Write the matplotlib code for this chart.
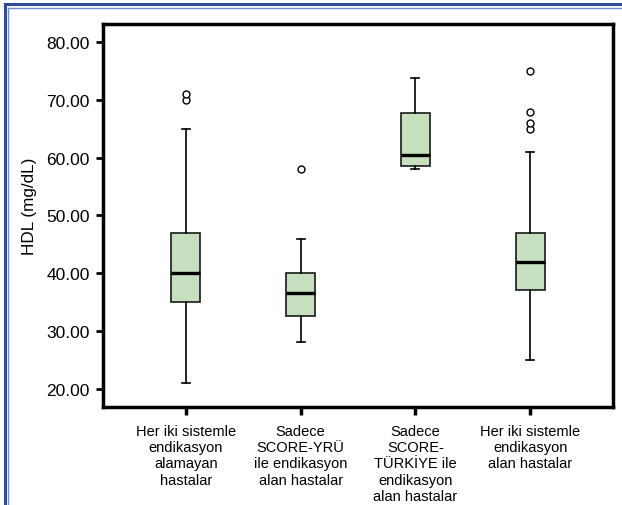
import matplotlib

matplotlib.use("Agg")
import matplotlib.pyplot as plt
from matplotlib.lines import Line2D

# group labels and box statistics (HDL, mg/dL)
groups = [
    "Her iki sistemle\nendikasyon\nalamayan\nhastalar",
    "Sadece\nSCORE-YRÜ\nile endikasyon\nalan hastalar",
    "Sadece\nSCORE-\nTÜRKİYE ile\nendikasyon\nalan hastalar",
    "Her iki sistemle\nendikasyon\nalan hastalar",
]
whislo = [21.0, 28.0, 58.0, 25.0]
q1 = [35.0, 32.5, 58.6, 37.0]
medians = [40.0, 36.5, 60.5, 42.0]
q3 = [47.0, 40.0, 67.8, 47.0]
whishi = [65.0, 46.0, 73.8, 61.0]
outliers = [[70.0, 71.0], [58.0], [], [65.0, 66.1, 68.0, 75.0]]
yticks = [20, 30, 40, 50, 60, 70, 80]

plt.rcParams["font.family"] = ["Liberation Sans", "DejaVu Sans"]

fig = plt.figure(figsize=(6.22, 5.06), dpi=100)
ax = fig.add_axes([0.1656, 0.1937, 0.82, 0.757])

stats = []
for i in range(len(groups)):
    stats.append({
        "whislo": whislo[i], "q1": q1[i], "med": medians[i],
        "q3": q3[i], "whishi": whishi[i], "fliers": outliers[i],
    })

ax.bxp(
    stats,
    positions=range(1, len(groups) + 1),
    widths=0.25,
    patch_artist=True,
    showfliers=True,
    boxprops=dict(facecolor="#c6dfbf", edgecolor="#1a1a1a", linewidth=1.2),
    medianprops=dict(color="black", linewidth=2.4),
    whiskerprops=dict(color="black", linewidth=1.2),
    capprops=dict(color="black", linewidth=1.2),
    capwidths=0.07,
    flierprops=dict(marker="o", markersize=5, markerfacecolor="white",
                    markeredgecolor="black", markeredgewidth=1.0),
)

ax.set_xlim(0.28, 4.72)
ax.set_ylim(16.8, 83.2)
ax.set_yticks(yticks)
ax.set_yticklabels([f"{v:.2f}" for v in yticks], fontsize=12.5)
ax.set_xticks(range(1, len(groups) + 1))
ax.set_xticklabels(groups, fontsize=10.5, linespacing=1.22)
ax.set_ylabel("HDL (mg/dL)", fontsize=12.3)
ax.yaxis.set_label_coords(-0.129, 0.527)

ax.tick_params(axis="y", direction="out", length=5, width=2, pad=4.5)
ax.tick_params(axis="x", direction="out", length=6, width=2.5, pad=6)
for spine in ax.spines.values():
    spine.set_linewidth(2.5)
    spine.set_color("black")

# blue double frame on the left and top edges of the figure
fig.add_artist(Line2D([0.0073, 0.0073], [0, 0.9911], transform=fig.transFigure,
                      color="#2e4c9e", linewidth=2.2))
fig.add_artist(Line2D([0.0135, 0.0135], [0, 0.9832], transform=fig.transFigure,
                      color="#6f8bd0", linewidth=1.0))
fig.add_artist(Line2D([0.0073, 1.0], [0.9911, 0.9911], transform=fig.transFigure,
                      color="#2e4c9e", linewidth=2.2))
fig.add_artist(Line2D([0.0135, 1.0], [0.9832, 0.9832], transform=fig.transFigure,
                      color="#6f8bd0", linewidth=1.0))

fig.savefig("out.png", dpi=100, facecolor="white")
